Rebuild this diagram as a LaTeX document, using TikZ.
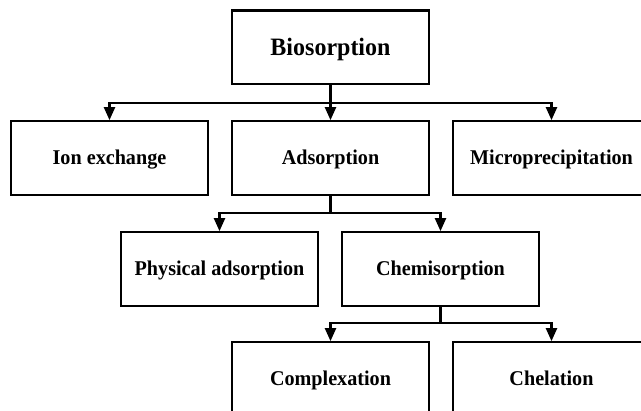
\documentclass[tikz,border=0pt]{standalone}
\usepackage{fontspec}
\setmainfont[FakeStretch=0.96]{Liberation Serif}
\usetikzlibrary{arrows.meta}
\begin{document}
\begin{tikzpicture}[x=1pt,y=-1pt,
  box/.style={draw,line width=2.2pt,minimum width=197pt,minimum height=73.5pt,inner sep=0pt,
    font=\fontsize{21}{25}\selectfont\bfseries,text height=14pt,text depth=0pt},
  topbox/.style={box,font=\fontsize{25}{29}\selectfont\bfseries,text height=16.6pt},
  conn/.style={line width=2.2pt},
  arr/.style={line width=2.2pt,-{Triangle[length=13pt,width=11pt]}}]
\useasboundingbox (0,0) rectangle (641,411);
\clip (0,0) rectangle (641,411);
% boxes
\node[topbox] (bio) at (330.5,47.3) {Biosorption};
\node[box] (ion) at (109.5,158) {Ion exchange};
\node[box] (ads) at (330.5,158) {Adsorption};
\node[box] (mic) at (551.5,158) {Microprecipitation};
\node[box] (phy) at (219.5,269) {Physical adsorption};
\node[box] (chem) at (440.5,269) {Chemisorption};
\node[box] (comp) at (330.5,379) {Complexation};
\node[box] (chel) at (551.5,379) {Chelation};
% bus points
\coordinate (b1) at (330.5,103);
\coordinate (b2) at (330.5,213.3);
\coordinate (b3) at (440.5,323.3);
% connectors
\draw[conn] (bio.south) -- (b1);
\draw[arr] (b1) -| (ion.north);
\draw[arr] (b1) -| (mic.north);
\draw[arr] (b1) -- (ads.north);
\draw[conn] (ads.south) -- (b2);
\draw[arr] (b2) -| (phy.north);
\draw[arr] (b2) -| (chem.north);
\draw[conn] (chem.south) -- (b3);
\draw[arr] (b3) -| (comp.north);
\draw[arr] (b3) -| (chel.north);
\end{tikzpicture}
\end{document}
